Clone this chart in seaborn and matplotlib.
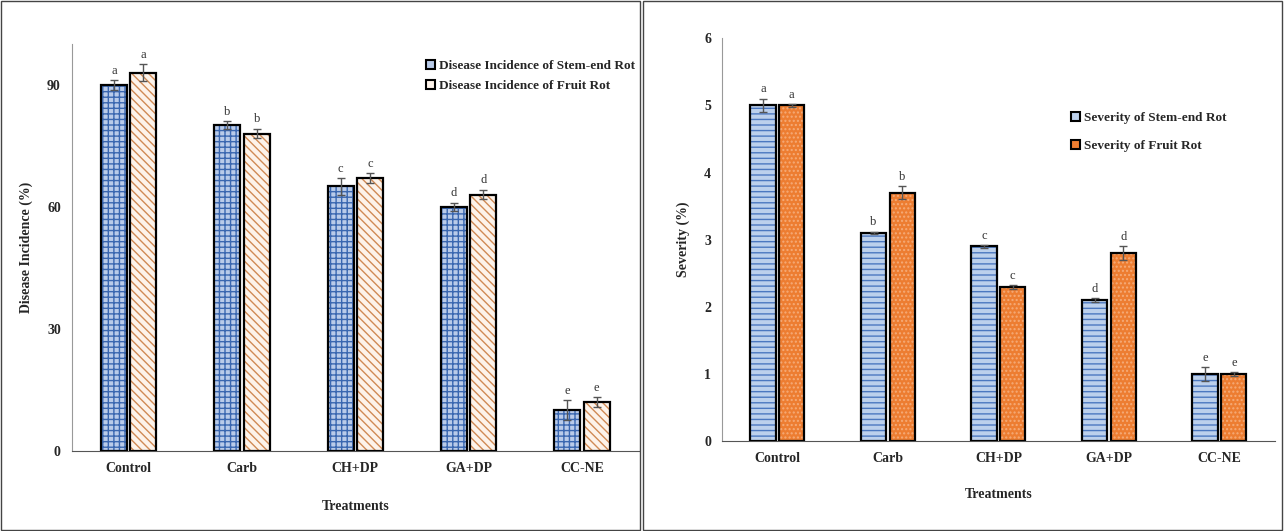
import pandas as pd
import seaborn as sns
import matplotlib.pyplot as plt
from matplotlib.patches import Rectangle

treatments = ["Control", "Carb", "CH+DP", "GA+DP", "CC-NE"]

# left panel: disease incidence (%)
inc_stem = [90, 80, 65, 60, 10]
inc_stem_err = [1.2, 1.0, 2.0, 1.0, 2.5]
inc_fruit = [93, 78, 67, 63, 12]
inc_fruit_err = [2.0, 1.2, 1.2, 1.2, 1.2]

# right panel: severity (%)
sev_stem = [5.0, 3.1, 2.9, 2.1, 1.0]
sev_stem_err = [0.1, 0.02, 0.02, 0.03, 0.1]
sev_fruit = [5.0, 3.7, 2.3, 2.8, 1.0]
sev_fruit_err = [0.02, 0.1, 0.03, 0.1, 0.03]

letters = ["a", "b", "c", "d", "e"]

serif = "Liberation Serif"
sns.set_style("white")
plt.rcParams["font.family"] = [serif, "DejaVu Serif"]
plt.rcParams["font.weight"] = "bold"


def draw(ax, stem, fruit, stem_err, fruit_err, names, styles, ylim, yticks,
         ylabel, leg_anchor, leg_space, xlab_pad):
    df = pd.DataFrame({
        "Treatment": treatments * 2,
        "Value": stem + fruit,
        "Series": [names[0]] * 5 + [names[1]] * 5,
    })
    sns.barplot(data=df, x="Treatment", y="Value", hue="Series", ax=ax,
                errorbar=None, width=0.52, gap=0.12, legend=False)
    errs = [stem_err, fruit_err]
    vals = [stem, fruit]
    for k in range(2):
        face, hcol, hatch = styles[k]
        for i, p in enumerate(ax.patches[k * 5:(k + 1) * 5]):
            p.set_facecolor(face)
            p.set_edgecolor(hcol)
            p.set_hatch(hatch)
            p.set_linewidth(0)
            ax.add_patch(Rectangle(p.get_xy(), p.get_width(), p.get_height(),
                                   fill=False, ec="black", lw=1.6, zorder=3))
            cx = p.get_x() + p.get_width() / 2
            ax.errorbar(cx, vals[k][i], yerr=errs[k][i], fmt="none",
                        ecolor="#555555", elinewidth=1, capsize=3, zorder=4)
            ax.text(cx, vals[k][i] + errs[k][i] + ylim[1] * 0.008, letters[i],
                    ha="center", va="bottom", fontsize=9, fontweight="normal",
                    color="#333333")
    ax.set_ylim(*ylim)
    ax.set_yticks(yticks)
    ax.set_xlim(-0.5, 4.5)
    ax.set_xlabel("Treatments", fontsize=10, fontweight="bold", labelpad=xlab_pad)
    ax.set_ylabel(ylabel, fontsize=10, fontweight="bold", labelpad=10)
    ax.tick_params(axis="both", labelsize=10, length=0, pad=8)
    for lab in ax.get_xticklabels() + ax.get_yticklabels():
        lab.set_fontweight("bold")
    sns.despine(ax=ax)
    ax.spines["left"].set_color("#999999")
    ax.spines["bottom"].set_color("#555555")
    handles = [Rectangle((0, 0), 1, 1, facecolor=s[0], edgecolor="black", lw=1.5)
               for s in styles]
    ax.legend(handles, names, loc="upper left", bbox_to_anchor=leg_anchor,
              frameon=False, handlelength=0.7, handleheight=0.7,
              handletextpad=0.3, labelspacing=leg_space, borderaxespad=0,
              prop={"family": serif, "weight": "bold", "size": 9.5})


fig = plt.figure(figsize=(12.85, 5.31), dpi=100)
ax1 = fig.add_axes([0.056, 0.151, 0.441, 0.766])
ax2 = fig.add_axes([0.562, 0.169, 0.43, 0.759])

draw(ax1, inc_stem, inc_fruit, inc_stem_err, inc_fruit_err,
     ["Disease Incidence of Stem-end Rot", "Disease Incidence of Fruit Rot"],
     [("#b9cbe9", "#3a67b0", "+++"), ("#fdf3ea", "#d08a55", "\\\\\\\\")],
     (0, 100), [0, 30, 60, 90], "Disease Incidence (%)",
     (0.615, 0.975), 0.6, 18)
draw(ax2, sev_stem, sev_fruit, sev_stem_err, sev_fruit_err,
     ["Severity of Stem-end Rot", "Severity of Fruit Rot"],
     [("#bcd0ec", "#4c78c0", "---"), ("#ed7d31", "#f5ab78", "....")],
     (0, 6), [0, 1, 2, 3, 4, 5, 6], "Severity (%)",
     (0.622, 0.83), 1.2, 16)

# panel borders
fig.patches.append(Rectangle((0.001, 0.002), 0.497, 0.996, transform=fig.transFigure,
                             fill=False, ec="#444444", lw=1))
fig.patches.append(Rectangle((0.5, 0.002), 0.498, 0.996, transform=fig.transFigure,
                             fill=False, ec="#444444", lw=1))

fig.savefig("out.png", dpi=100)
